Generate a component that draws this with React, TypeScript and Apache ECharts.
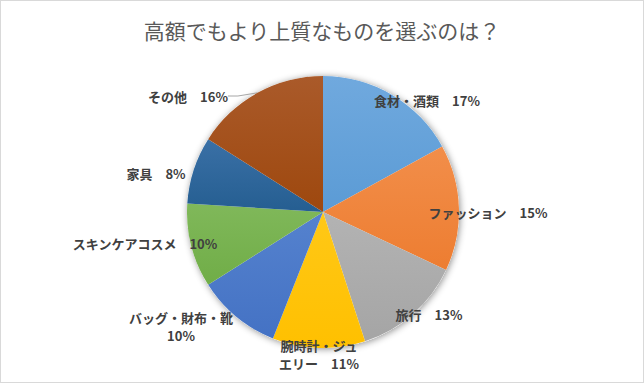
import React, { useEffect, useRef } from "react";
import * as echarts from "echarts";

const TITLE = "高額でもより上質なものを選ぶのは？";
const categories = [
  "食材・酒類",
  "ファッション",
  "旅行",
  "腕時計・ジュエリー",
  "バッグ・財布・靴",
  "スキンケアコスメ",
  "家具",
  "その他",
];
const values = [17, 15, 13, 11, 10, 10, 8, 16];
// label text as wrapped in the reference
const labelLines = [
  "食材・酒類　{p}%",
  "ファッション　{p}%",
  "旅行　{p}%",
  "腕時計・ジュ\nエリー　{p}%",
  "バッグ・財布・靴\n{p}%",
  "スキンケアコスメ　{p}%",
  "家具　{p}%",
  "その他　{p}%",
];

// styling (not data)
const baseColors = ["#5B9BD5", "#ED7D31", "#A5A5A5", "#FFC000", "#4472C4", "#70AD47", "#255E91", "#9E480E"];
const topColors = ["#70A9DE", "#F28E4A", "#B3B3B3", "#FFC817", "#5582CE", "#80B85A", "#3A70A6", "#AA5A2A"];
const labelAnchor: [number, number][] = [
  [426, 99],
  [487, 211],
  [428, 313],
  [318, 353],
  [180, 325],
  [144, 242],
  [155, 172],
  [187, 95],
];

export default function App() {
  const ref = useRef<HTMLDivElement>(null);
  useEffect(() => {
    if (!ref.current) return;
    const chart = echarts.init(ref.current, undefined, { renderer: "svg" });
    const font = "'Noto Sans CJK JP', 'Noto Sans', sans-serif";
    const data = categories.map((name, i) => ({
      name,
      value: values[i],
      itemStyle: {
        color: {
          type: "linear",
          x: 0,
          y: 0,
          x2: 0,
          y2: 1,
          colorStops: [
            { offset: 0, color: topColors[i] },
            { offset: 1, color: baseColors[i] },
          ],
        },
      },
      labelLine: { show: i === 7 },
    }));
    chart.setOption({
      animation: false,
      backgroundColor: "#FFFFFF",
      title: {
        text: TITLE,
        left: "center",
        top: 13,
        textStyle: { fontFamily: font, fontSize: 21, fontWeight: "normal", color: "#595959" },
      },
      series: [
        {
          type: "pie",
          silent: true,
          center: [322, 211],
          radius: 136,
          z: 1,
          label: { show: false },
          labelLine: { show: false },
          itemStyle: {
            color: "#FFFFFF",
            shadowBlur: 7,
            shadowColor: "rgba(0,0,0,0.45)",
            shadowOffsetX: 1,
            shadowOffsetY: 1,
          },
          data: [{ value: 1, name: "" }],
        },
        {
          type: "pie",
          center: [322, 211],
          radius: 136,
          z: 2,
          startAngle: 90,
          clockwise: true,
          avoidLabelOverlap: false,
          itemStyle: { borderWidth: 0 },
          label: {
            show: true,
            position: "outside",
            fontFamily: font,
            fontSize: 13,
            fontWeight: "bold",
            color: "#404040",
            lineHeight: 18,
            align: "center",
            formatter: (p: any) => labelLines[p.dataIndex].replace("{p}", String(Math.round(p.percent))),
          },
          labelLine: {
            length: 10,
            length2: 10,
            lineStyle: { color: "#A6A6A6", width: 1 },
          },
          labelLayout: (params: any) => {
            const a = labelAnchor[params.dataIndex];
            return { x: a[0], y: a[1], align: "center", verticalAlign: "middle" };
          },
          data,
        },
      ],
    });
    return () => chart.dispose();
  }, []);
  return (
    <div
      style={{
        position: "fixed",
        left: 0,
        top: 0,
        width: 644,
        height: 383,
        boxSizing: "border-box",
        border: "1px solid #D9D9D9",
        background: "#fff",
      }}
    >
      <div ref={ref} style={{ width: 642, height: 381 }} />
    </div>
  );
}
